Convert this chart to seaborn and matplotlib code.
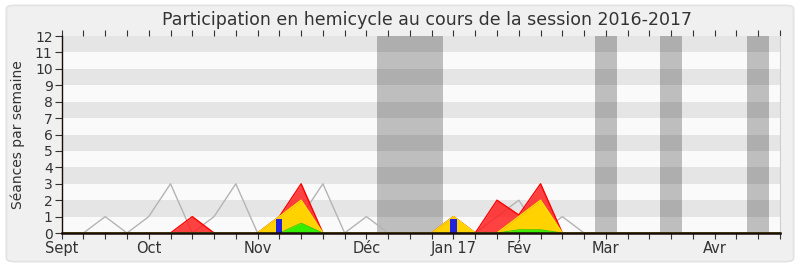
import matplotlib
matplotlib.use("Agg")
import matplotlib.pyplot as plt
from matplotlib.patches import FancyBboxPatch
import numpy as np
import pandas as pd
import seaborn as sns

# ---- data (weekly, index 0 = first week of September 2016) ----
weeks = list(range(34))
total_seances = [0, 0, 1, 0, 1, 3, 0, 1, 3, 0, 1, 1, 3, 0, 1, 0, 0, 0, 1, 0,
                 1, 2, 0, 1, 0, 0, 0, 0, 0, 0, 0, 0, 0, 0]
presences = [0, 0, 0, 0, 0, 0, 1, 0, 0, 0, 1, 3, 0, 0, 0, 0, 0, 0, 1, 0,
             2, 1.1, 3, 0, 0, 0, 0, 0, 0, 0, 0, 0, 0, 0]
participations = [0, 0, 0, 0, 0, 0, 0, 0, 0, 0, 1, 2, 0, 0, 0, 0, 0, 0, 1, 0,
                  0, 1, 2, 0, 0, 0, 0, 0, 0, 0, 0, 0, 0, 0]
interventions = [0, 0, 0, 0, 0, 0, 0, 0, 0, 0, 0, 0.6, 0, 0, 0, 0, 0, 0, 0, 0,
                 0, 0.2, 0.2, 0, 0, 0, 0, 0, 0, 0, 0, 0, 0, 0]
question_weeks = [10, 18]
question_values = [0.85, 0.85]
vacation_starts = [14.5, 24.5, 27.5, 31.5]
vacation_ends = [17.5, 25.5, 28.5, 32.5]
month_ticks = [0, 4, 9, 14, 18, 21, 25, 30]
month_labels = ["Sept", "Oct", "Nov", "Déc", "Jan 17", "Fév", "Mar", "Avr"]

title = "Participation en hemicycle au cours de la session 2016-2017"
ylabel = "Séances par semaine"

df = pd.DataFrame({"week": weeks, "total": total_seances, "pres": presences,
                   "part": participations, "inter": interventions})

sns.set_theme(style="white")
plt.rcParams["font.family"] = ["DejaVu Sans"]

fig = plt.figure(figsize=(8, 2.67), dpi=100, facecolor="white")
bg = FancyBboxPatch((0.008, 0.02), 0.984, 0.96,
                    boxstyle="round,pad=0,rounding_size=0.012",
                    transform=fig.transFigure, facecolor="#f0f0f0",
                    edgecolor="#e2e2e2", linewidth=1.2, zorder=-10)
fig.patches.append(bg)

ax = fig.add_axes([0.0771, 0.1273, 0.975 - 0.0771, 0.865 - 0.1273])
ax.set_facecolor("#fafafa")
ax.set_xlim(0, 33)
ax.set_ylim(0, 12)

for y0 in range(1, 12, 2):
    ax.axhspan(y0, y0 + 1, color="#e5e5e5", lw=0, zorder=0)
for s, e in zip(vacation_starts, vacation_ends):
    ax.axvspan(s, e, color="black", alpha=0.24, lw=0, zorder=1)

sns.lineplot(data=df, x="week", y="total", ax=ax, color="#b4b4b4", lw=1.0,
             zorder=2)
ax.fill_between(df["week"], 0, df["pres"], color="#ff2020", alpha=0.85,
                lw=0, zorder=3)
sns.lineplot(data=df, x="week", y="pres", ax=ax, color="#ff0000", lw=1.0,
             zorder=3.1)
ax.fill_between(df["week"], 0, df["part"], color="#ffd200", lw=0, zorder=4)
sns.lineplot(data=df, x="week", y="part", ax=ax, color="#ffe000", lw=1.0,
             zorder=4.1)
ax.fill_between(df["week"], 0, df["inter"], color="#33ee00", lw=0, zorder=5)
sns.lineplot(data=df, x="week", y="inter", ax=ax, color="#22cc00", lw=0.6,
             zorder=5.1)
ax.bar(question_weeks, question_values, width=0.28, color="#2222dd",
       zorder=6, lw=0)

ax.set_xlabel("")
ax.set_ylabel(ylabel, fontsize=10, color="#333333", labelpad=7)

ax.set_yticks(range(0, 13))
ax.set_yticklabels([str(v) for v in range(0, 13)], fontsize=10,
                   color="#333333")
ax.set_xticks(weeks)
lab = [""] * len(weeks)
for t, l in zip(month_ticks, month_labels):
    lab[t] = l
ax.set_xticklabels(lab, fontsize=10.5, color="#333333")
ax.tick_params(axis="y", which="both", left=True, length=5, width=0.8,
               color="#333333", pad=1.5)
ax.tick_params(axis="x", which="both", bottom=True, top=True, length=4,
               width=0.8, color="#333333", pad=1.8)

for side in ["left", "bottom"]:
    ax.spines[side].set_color("#1a0a0a")
    ax.spines[side].set_zorder(10)
ax.spines["left"].set_linewidth(1.0)
ax.spines["bottom"].set_linewidth(1.8)
ax.spines["top"].set_visible(False)
ax.spines["right"].set_color("#d0d0d0")
ax.spines["right"].set_linewidth(0.8)
ax.grid(False)
if ax.get_legend():
    ax.get_legend().remove()

fig.text(0.534, 0.925, title, ha="center", va="center", fontsize=12.5,
         color="#333333")

fig.savefig("out.png", dpi=100, facecolor="white")
